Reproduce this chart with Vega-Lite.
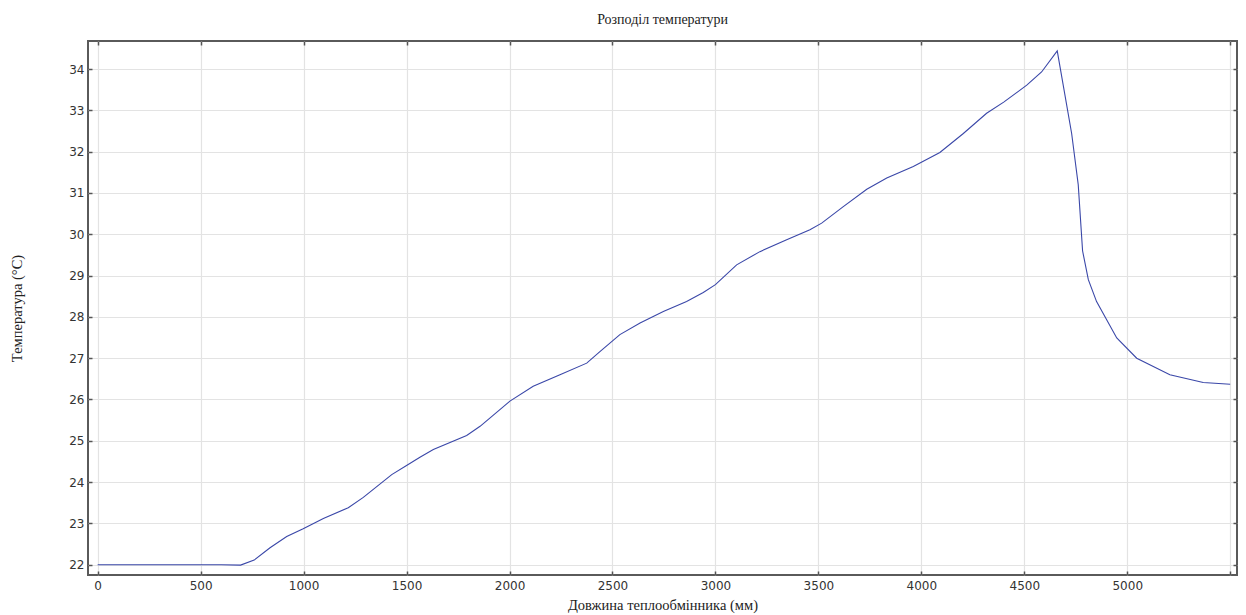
{
  "$schema": "https://vega.github.io/schema/vega-lite/v6.json",
  "width": 1149,
  "height": 534,
  "autosize": {"type": "none"},
  "padding": {"left": 88, "top": 41, "right": 9, "bottom": 40},
  "background": "white",
  "title": {
    "text": "Розподіл температури",
    "font": "Liberation Serif",
    "fontSize": 14,
    "fontWeight": "normal",
    "color": "#222",
    "anchor": "middle",
    "offset": 13
  },
  "config": {
    "view": {"stroke": "#5a5a5a", "strokeWidth": 2},
    "axis": {
      "domain": false,
      "grid": true,
      "gridColor": "#e3e3e3",
      "gridWidth": 1.2,
      "tickColor": "#555",
      "tickSize": -4,
      "tickWidth": 1.5,
      "labelFont": "DejaVu Sans",
      "labelFontSize": 12,
      "labelColor": "#333",
      "titleFont": "Liberation Serif",
      "titleFontSize": 14.5,
      "titleFontWeight": "normal",
      "titleColor": "#222"
    }
  },
  "data": {
    "values": [
      {"x": 0, "t": 22.0},
      {"x": 200, "t": 22.0},
      {"x": 400, "t": 22.0},
      {"x": 600, "t": 22.0},
      {"x": 694, "t": 21.99},
      {"x": 760, "t": 22.11},
      {"x": 837, "t": 22.41},
      {"x": 918, "t": 22.68},
      {"x": 998, "t": 22.87},
      {"x": 1096, "t": 23.12},
      {"x": 1217, "t": 23.38},
      {"x": 1290, "t": 23.63},
      {"x": 1428, "t": 24.18},
      {"x": 1500, "t": 24.4},
      {"x": 1565, "t": 24.6},
      {"x": 1630, "t": 24.79},
      {"x": 1792, "t": 25.13},
      {"x": 1857, "t": 25.35},
      {"x": 2002, "t": 25.96},
      {"x": 2115, "t": 26.32},
      {"x": 2245, "t": 26.6},
      {"x": 2375, "t": 26.88},
      {"x": 2439, "t": 27.16},
      {"x": 2536, "t": 27.57},
      {"x": 2634, "t": 27.85},
      {"x": 2747, "t": 28.13},
      {"x": 2860, "t": 28.37},
      {"x": 2941, "t": 28.59},
      {"x": 3000, "t": 28.78},
      {"x": 3103, "t": 29.26},
      {"x": 3216, "t": 29.58},
      {"x": 3346, "t": 29.87},
      {"x": 3459, "t": 30.11},
      {"x": 3516, "t": 30.27},
      {"x": 3621, "t": 30.67},
      {"x": 3735, "t": 31.09},
      {"x": 3832, "t": 31.36},
      {"x": 3961, "t": 31.64},
      {"x": 4090, "t": 31.98},
      {"x": 4204, "t": 32.44},
      {"x": 4317, "t": 32.93},
      {"x": 4400, "t": 33.2},
      {"x": 4512, "t": 33.61},
      {"x": 4584, "t": 33.93},
      {"x": 4660, "t": 34.44},
      {"x": 4730, "t": 32.44},
      {"x": 4762, "t": 31.2},
      {"x": 4783, "t": 29.6},
      {"x": 4811, "t": 28.9},
      {"x": 4851, "t": 28.37},
      {"x": 4949, "t": 27.49},
      {"x": 5046, "t": 27.0},
      {"x": 5207, "t": 26.6},
      {"x": 5369, "t": 26.41},
      {"x": 5500, "t": 26.37}
    ]
  },
  "layer": [
    {
      "mark": {"type": "line", "color": "#3a47a8", "strokeWidth": 1.1, "clip": true},
      "encoding": {
        "x": {
          "field": "x",
          "type": "quantitative",
          "scale": {"domain": [-47, 5533], "nice": false, "zero": false},
          "axis": {
            "title": "Довжина теплообмінника (мм)",
            "values": [0, 500, 1000, 1500, 2000, 2500, 3000, 3500, 4000, 4500, 5000, 5500],
            "labelExpr": "datum.value == 5500 ? '' : datum.value",
            "labelPadding": 9,
            "titlePadding": 7
          }
        },
        "y": {
          "field": "t",
          "type": "quantitative",
          "scale": {"domain": [21.75, 34.68], "nice": false, "zero": false},
          "axis": {
            "title": "Температура (°C)",
            "values": [22, 23, 24, 25, 26, 27, 28, 29, 30, 31, 32, 33, 34],
            "labelPadding": 8,
            "titlePadding": 44
          }
        }
      }
    },
    {
      "mark": {"type": "line", "opacity": 0},
      "encoding": {
        "x": {
          "field": "x",
          "type": "quantitative",
          "scale": {"domain": [-47, 5533], "nice": false, "zero": false},
          "axis": {
            "orient": "top",
            "title": null,
            "labels": false,
            "grid": false,
            "values": [0, 500, 1000, 1500, 2000, 2500, 3000, 3500, 4000, 4500, 5000, 5500]
          }
        },
        "y": {
          "field": "t",
          "type": "quantitative",
          "scale": {"domain": [21.75, 34.68], "nice": false, "zero": false},
          "axis": {
            "orient": "right",
            "title": null,
            "labels": false,
            "grid": false,
            "values": [22, 23, 24, 25, 26, 27, 28, 29, 30, 31, 32, 33, 34]
          }
        }
      }
    }
  ],
  "resolve": {"axis": {"x": "independent", "y": "independent"}}
}
